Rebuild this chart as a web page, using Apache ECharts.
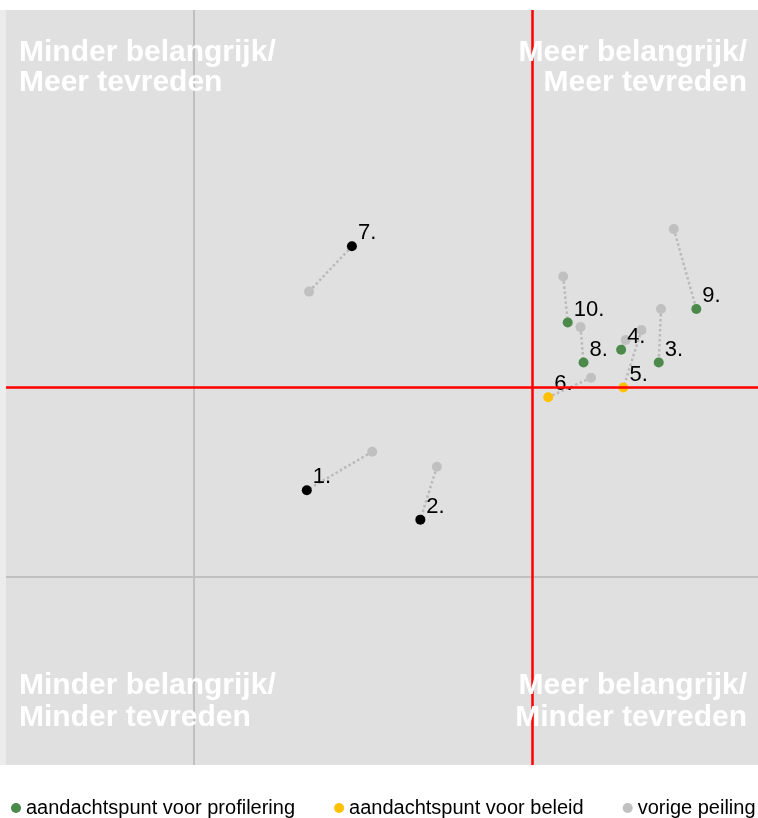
<!DOCTYPE html>
<html lang="nl">
<head>
    <meta charset="UTF-8">
    <title>Belang en tevredenheid</title>
    <script src="https://cdn.jsdelivr.net/npm/echarts@6/dist/echarts.min.js"></script>
    <style>
        *{
            margin: 0;
            padding: 0;
        }
        .container{
            width: 758px;
            height: 818px;
        }
    </style>
</head>
<body>
<div class="container"></div>
<script>
    // punten: huidige en vorige peiling (schaal 0-100)
    let labels=['1.','2.','3.','4.','5.','6.','7.','8.','9.','10.']
    let kind=['zwart','zwart','profilering','profilering','beleid','beleid','zwart','profilering','profilering','profilering']
    let curX=[40.0,55.1,86.8,81.8,82.1,72.1,46.0,76.8,91.8,74.7]
    let curY=[36.4,32.5,53.3,55.0,50.0,48.7,68.7,53.3,60.4,58.6]
    let prevX=[48.7,57.3,87.1,82.4,84.5,77.8,40.3,76.4,88.8,74.1]
    let prevY=[41.5,39.5,60.4,56.3,57.6,51.3,62.7,58.0,71.0,64.7]
    let legendNames=['aandachtspunt voor profilering','aandachtspunt voor beleid','vorige peiling']

    let container=document.querySelector('.container')
    let echart=echarts.init(container)

    function points(k){
        let out=[]
        labels.forEach((lab,i)=>{
            if(kind[i]==k) out.push({value:[curX[i],curY[i]],name:lab})
        })
        return out
    }

    let pointLabel={
        show:true,
        position:'right',
        distance:1,
        offset:[0,-13],
        formatter:p=>p.name,
        color:'#000',
        fontSize:22,
        fontFamily:'Arial'
    }

    let quadFont='bold 30px Arial'
    function qText(text,x,y,align){
        return {
            type:'text', z:100,
            style:{text:text,x:x,y:y,fill:'#fff',font:quadFont,align:align,verticalAlign:'middle'}
        }
    }

    let option={
        animation:false,
        grid:{left:6,top:10,right:0,bottom:53,show:true,backgroundColor:'#e0e0e0',borderWidth:0},
        xAxis:{type:'value',min:0,max:100,show:false,splitLine:{show:false}},
        yAxis:{type:'value',min:0,max:100,show:false,splitLine:{show:false}},
        legend:{
            data:legendNames,
            left:11,
            top:798,
            width:770,
            padding:0,
            icon:'circle',
            itemWidth:10,
            itemHeight:10,
            itemGap:39,
            textStyle:{fontSize:20,fontFamily:'Arial',color:'#000'}
        },
        graphic:[
            {type:'rect',z:-1,shape:{x:0,y:10,width:6,height:755},style:{fill:'#ececec'}},
            qText('Minder belangrijk/',19,53,'left'),
            qText('Meer tevreden',19,83,'left'),
            qText('Meer belangrijk/',747,53,'right'),
            qText('Meer tevreden',747,83,'right'),
            qText('Minder belangrijk/',19,686,'left'),
            qText('Minder tevreden',19,718,'left'),
            qText('Meer belangrijk/',747,686,'right'),
            qText('Minder tevreden',747,718,'right')
        ],
        series:[
            {
                type:'scatter', name:'lijnen', data:[], z:1, silent:true,
                markLine:{
                    silent:true, symbol:'none', label:{show:false},
                    data:[
                        {xAxis:25,lineStyle:{color:'#c0c0c0',width:2,type:'solid'}},
                        {yAxis:25,lineStyle:{color:'#c0c0c0',width:2,type:'solid'}},
                        {xAxis:70,lineStyle:{color:'#ff0000',width:2.5,type:'solid'}},
                        {yAxis:50,lineStyle:{color:'#ff0000',width:2.5,type:'solid'}}
                    ]
                }
            },
            {
                type:'lines', coordinateSystem:'cartesian2d', z:2, silent:true,
                lineStyle:{color:'#bababa',width:2.5,type:[2.5,2.5],opacity:1},
                data:labels.map((l,i)=>({coords:[[prevX[i],prevY[i]],[curX[i],curY[i]]]}))
            },
            {
                type:'scatter', name:'vorige peiling', z:3, symbolSize:10,
                itemStyle:{color:'#c0c0c0',opacity:1},
                data:labels.map((l,i)=>[prevX[i],prevY[i]])
            },
            {
                type:'scatter', name:'overig', z:4, symbolSize:10,
                itemStyle:{color:'#000',opacity:1},
                label:pointLabel,
                data:points('zwart')
            },
            {
                type:'scatter', name:legendNames[0], z:4, symbolSize:10,
                itemStyle:{color:'#4b8a4b',opacity:1},
                label:pointLabel,
                data:points('profilering')
            },
            {
                type:'scatter', name:legendNames[1], z:4, symbolSize:10,
                itemStyle:{color:'#ffc000',opacity:1},
                label:pointLabel,
                data:points('beleid')
            }
        ]
    }

    echart.setOption(option)
</script>
</body>
</html>
